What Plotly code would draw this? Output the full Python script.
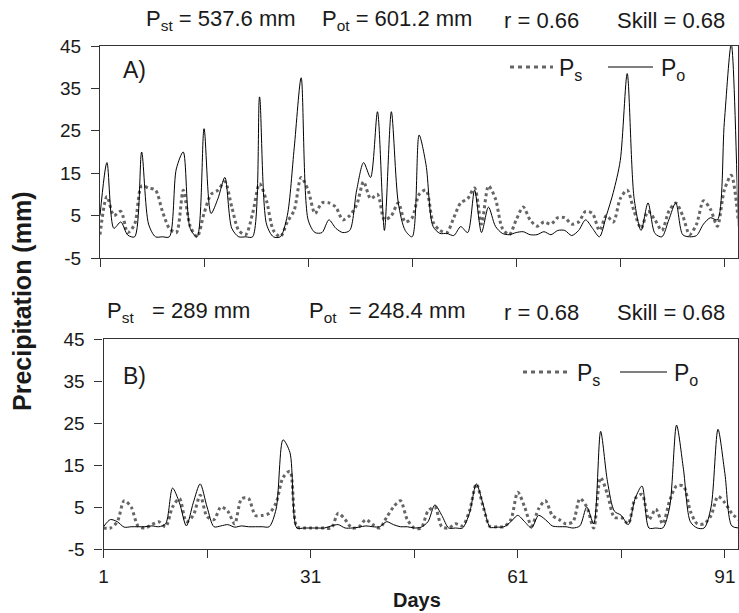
import plotly.graph_objects as go
from plotly.subplots import make_subplots

days = list(range(1, 94))

# Panel A (top)
ps_a = [0.5, 9.5, 5, 6, 1, 3, 12, 11.5, 11, 6, 2, 1, 11, 2.5, 0, 5.5, 10, 11, 13, 7,
        1.5, 0.5, 5.5, 12.5, 8.5, 1.5, 0, 3.5, 6.3, 14, 11, 5.5, 8, 8, 7, 4, 5, 7.5, 13, 9,
        10, 4, 5, 8, 3.5, 4.5, 10, 11, 3.5, 1.5, 1, 4.5, 8, 9, 11.5, 3, 12, 9, 2, 0.5,
        4, 7, 4, 2.5, 3.5, 3, 4.5, 4.5, 3, 3.5, 6, 5.5, 1.5, 5, 3.5, 9, 11, 6, 2, 6,
        4, 1.5, 6, 8, 5, 0.5, 3, 8.5, 6.5, 2.5, 11, 14.5, 4]
po_a = [5, 17.5, 2, 3.5, 0.4, 0, 20, 3, 0, 0, 0, 16, 20, 2, 0, 25.5, 5.5, 9, 14, 2,
        0, 0, 0, 33, 3, 0, 0, 5, 21, 37.5, 4, 1, 1, 4, 2, 1, 1.5, 11, 17.5, 14,
        29.5, 1.5, 29.5, 8, 1.5, 0, 24, 17, 2.5, 0.8, 0.8, 0.3, 2.4, 1, 11, 1, 7, 2.5, 0.8, 0.5,
        1, 1.2, 0.5, 0.5, 1.2, 0.5, 1.5, 1.5, 0.3, 1.5, 4, 2, 0, 5, 10.5, 18, 38.5, 9, 1.5, 8,
        0.8, 0, 4, 8, 0.5, 0, 0.3, 3, 4.5, 4, 27, 45.5, 2.4]

# Panel B (bottom)
ps_b = [0, 0, 1.5, 6.5, 5, 0.5, 0, 0.8, 1.5, 0.3, 5, 7, 1.5, 3, 7.8, 2.7, 2, 5, 4, 1,
        7, 7, 3, 3, 3.5, 6, 12, 13.5, 0.3, 0, 0, 0, 0, 0, 3.5, 2, 0, 0.3, 2, 0.8,
        0, 2.5, 5, 6.5, 2, 0, 0, 4, 5, 0.3, 0, 1, 0.5, 4, 10.5, 5, 0.3, 0.3, 0.3, 2,
        8.5, 5, 0.5, 4.5, 6.5, 3, 2, 1, 1.5, 7, 5, 0, 12, 8, 2.5, 2.5, 1, 7, 8, 2,
        4.5, 1, 6.5, 10, 10, 4, 1, 1, 3, 7.5, 6, 3.5, 2]
po_b = [0.3, 2, 1.5, 0.2, 0.3, 0.3, 0.3, 0.5, 0.3, 1, 9.5, 6, 0.5, 6, 10.5, 5, 0.3, 0.5, 0.8, 0.2,
        0.5, 0.3, 0.3, 0.3, 0.3, 4.5, 21, 18, 0, 0, 0, 0, 0, 0.5, 0.8, 0, 0, 0.2, 0.5, 0.3,
        0.3, 1.5, 0.8, 0.3, 0.3, 0, 0.2, 1.5, 5.5, 3, 0, 0, 0, 3.5, 10.5, 5.5, 0.2, 0.2, 0.3, 1.5,
        3, 1.5, 0, 3, 2, 0.5, 0.3, 0.3, 0, 0.5, 5, 1, 23, 11, 4, 3, 0.8, 7, 10, 0,
        0, 0, 5, 24.5, 14, 1.5, 0, 0, 5, 23.5, 13, 0.5, 0]

stats_a = ['P<sub>st</sub> = 537.6 mm', 'P<sub>ot</sub> = 601.2 mm', 'r = 0.66', 'Skill = 0.68']
stats_b = ['P<sub>st</sub>&nbsp;&nbsp; = 289 mm', 'P<sub>ot</sub>&nbsp; = 248.4 mm',
           'r = 0.68', 'Skill = 0.68']
series_names = ['P<sub>s</sub>', 'P<sub>o</sub>']

xtick_vals = [1, 16, 31, 46, 61, 76, 91]
xtick_text = ['1', '', '31', '', '61', '', '91']
ytick_vals = [-5, 5, 15, 25, 35, 45]
ytick_text = ['-5', '5', '15', '25', '35', '45']

FONT = 'Liberation Sans, Arial, sans-serif'
TXT = '#1a1a1a'
W, H = 739, 613
L, R, T, B = 100, 1, 46, 64
pw, ph = W - L - R, H - T - B


def px(x):  # image x -> paper x
    return (x - L) / pw


def py(y):  # image y -> paper y
    return (H - B - y) / ph


fig = make_subplots(rows=2, cols=1)

dot_style = dict(color='#666666', width=3, dash='3px,3px', shape='spline', smoothing=0.8)
solid_style = dict(color='black', width=1, shape='spline', smoothing=0.8)

for r, (ps, po) in enumerate([(ps_a, po_a), (ps_b, po_b)], start=1):
    fig.add_trace(go.Scatter(x=days, y=ps, mode='lines', name=series_names[0],
                             line=dot_style, showlegend=False), row=r, col=1)
    fig.add_trace(go.Scatter(x=days, y=po, mode='lines', name=series_names[1],
                             line=solid_style, showlegend=False), row=r, col=1)

axis_common = dict(showline=True, linecolor='#333333', linewidth=1.2, mirror=True,
                   showgrid=False, zeroline=False, ticks='outside', ticklen=8,
                   tickcolor='#333333', tickfont=dict(family=FONT, size=19, color=TXT))

fig.update_xaxes(range=[1, 92.9], tickvals=xtick_vals, ticklabelstandoff=2, **axis_common)
fig.update_xaxes(ticktext=['' for _ in xtick_vals], domain=[0, 637.5 / pw], row=1, col=1)
fig.update_xaxes(ticktext=xtick_text, domain=[3.5 / pw, 1], row=2, col=1)
fig.update_yaxes(range=[-5, 45], tickvals=ytick_vals, ticktext=ytick_text,
                 ticklabelstandoff=6, **axis_common)
fig.update_yaxes(domain=[py(258), 1], row=1, col=1)
fig.update_yaxes(domain=[0, py(339)], row=2, col=1)

ann = []
for txt, xc in zip(stats_a, [221, 397, 541, 671]):
    ann.append(dict(text=txt, x=px(xc), y=py(20), xref='paper', yref='paper',
                    xanchor='center', yanchor='middle', showarrow=False,
                    font=dict(family=FONT, size=22, color=TXT)))
for txt, xc in zip(stats_b, [178, 387, 541, 671]):
    ann.append(dict(text=txt, x=px(xc), y=py(312), xref='paper', yref='paper',
                    xanchor='center', yanchor='middle', showarrow=False,
                    font=dict(family=FONT, size=22, color=TXT)))
for txt, y0 in [('A)', 70), ('B)', 376)]:
    ann.append(dict(text=txt, x=px(121), y=py(y0), xref='paper', yref='paper',
                    xanchor='left', yanchor='middle', showarrow=False,
                    font=dict(family=FONT, size=23, color=TXT)))
ann.append(dict(text='<b>Precipitation (mm)</b>', x=px(22), y=py(302), xref='paper', yref='paper',
                textangle=-90, xanchor='center', yanchor='middle', showarrow=False,
                font=dict(family=FONT, size=25, color=TXT)))
ann.append(dict(text='<b>Days</b>', x=px(417), y=py(600), xref='paper', yref='paper',
                xanchor='center', yanchor='middle', showarrow=False,
                font=dict(family=FONT, size=20, color=TXT)))

# hand-drawn legends inside each panel
shapes = []
for (d0, d1, t1, s0, s1, t2, yy) in [(510, 553, 557, 608, 653, 659, 67),
                                    (523, 570, 575, 620, 667, 672, 372)]:
    shapes.append(dict(type='line', xref='paper', yref='paper', x0=px(d0), x1=px(d1),
                       y0=py(yy), y1=py(yy), line=dict(color='#666666', width=3, dash='4px,4px')))
    shapes.append(dict(type='line', xref='paper', yref='paper', x0=px(s0), x1=px(s1),
                       y0=py(yy), y1=py(yy), line=dict(color='black', width=1)))
    for name, xt in zip(series_names, [t1, t2]):
        ann.append(dict(text=name, x=px(xt), y=py(yy + 2), xref='paper', yref='paper',
                        xanchor='left', yanchor='middle', showarrow=False,
                        font=dict(family=FONT, size=23, color=TXT)))

fig.update_layout(
    width=W, height=H,
    margin=dict(l=L, r=R, t=T, b=B),
    plot_bgcolor='white', paper_bgcolor='white',
    font=dict(family=FONT),
    annotations=ann,
    shapes=shapes,
    showlegend=False,
)

fig.write_html('out.html', config={'displayModeBar': False},
               post_script="document.body.style.margin='0';")
